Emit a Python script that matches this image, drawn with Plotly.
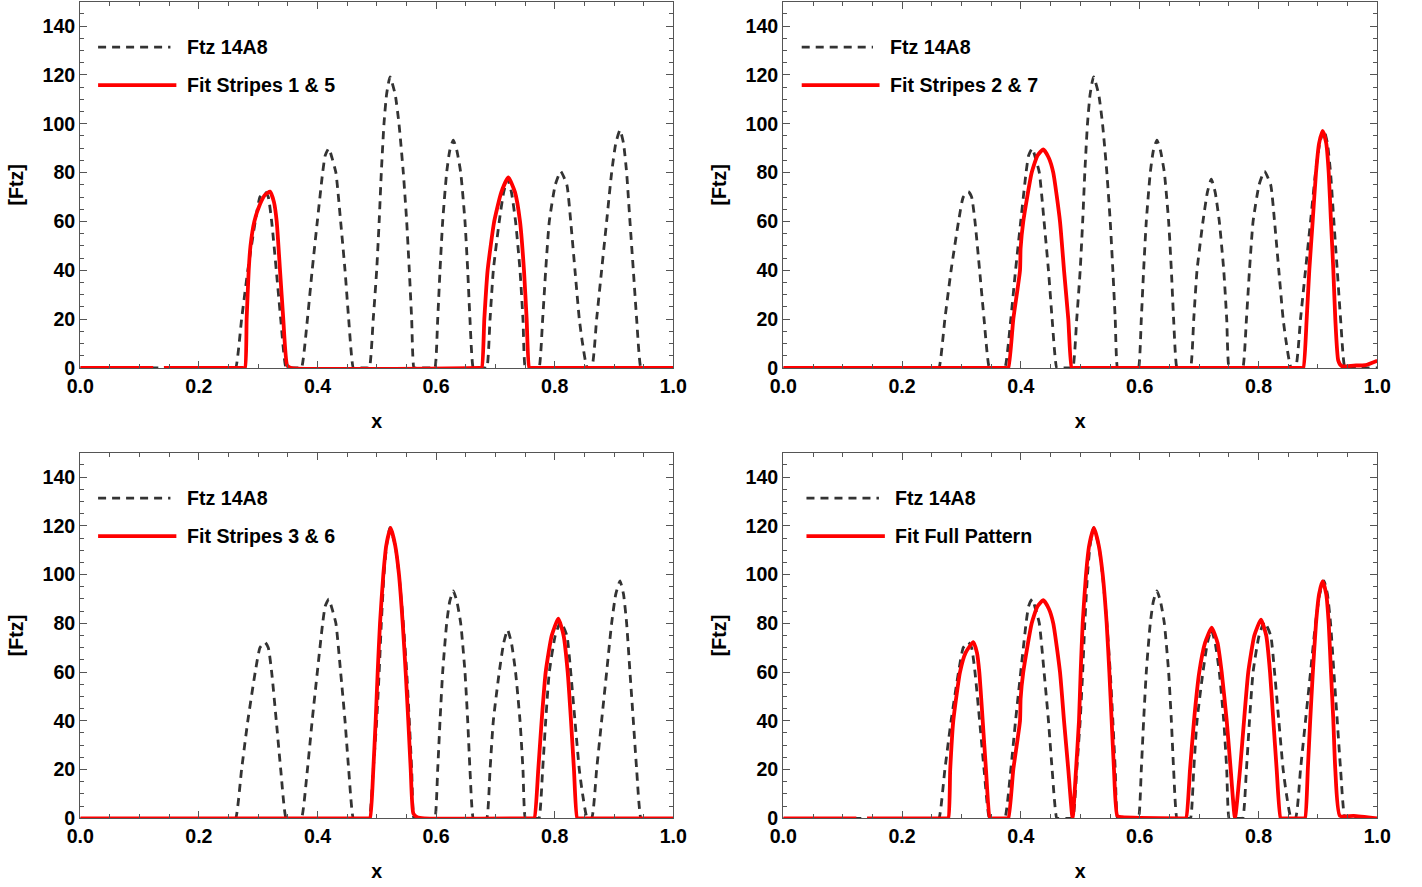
import plotly.graph_objects as go

# ---------------- data ----------------
ftz_x = [0.0, 0.258, 0.262, 0.272, 0.2825, 0.295, 0.303, 0.3115, 0.317, 0.3227, 0.3305, 0.338, 0.347, 0.351,
         0.369, 0.373, 0.383, 0.391, 0.3997, 0.4087, 0.413, 0.419, 0.4245, 0.431, 0.439, 0.4464, 0.4526, 0.4604, 0.464,
         0.484, 0.4874, 0.494, 0.4998, 0.504, 0.5076, 0.5121, 0.5165, 0.5223, 0.531, 0.5374, 0.5447, 0.5504, 0.5548, 0.5588, 0.5627, 0.566,
         0.595, 0.598, 0.6027, 0.6066, 0.6111, 0.6178, 0.623, 0.629, 0.635, 0.6415, 0.6487, 0.6533, 0.6571, 0.6627, 0.666,
         0.682, 0.6855, 0.691, 0.6965, 0.7065, 0.714, 0.7205, 0.727, 0.734, 0.7415, 0.7465, 0.7505, 0.754,
         0.770, 0.7735, 0.7797, 0.7848, 0.7909, 0.801, 0.810, 0.8205, 0.827, 0.8342, 0.8415, 0.847, 0.855,
         0.8622, 0.8707, 0.8791, 0.8876, 0.896, 0.903, 0.9101, 0.916, 0.9213, 0.9269, 0.9326, 0.9382, 0.9454, 0.949, 1.0]
ftz_y = [0, 0, 0, 20, 40, 60, 70, 72.2, 70, 60, 40, 20, 0, 0,
         0, 0, 20, 40, 60, 80, 87, 89.9, 86, 80, 60, 40, 20, 0, 0,
         0, 0, 20, 40, 60, 80, 100, 112, 119.2, 112, 100, 80, 60, 40, 20, 0, 0,
         0, 0, 20, 40, 60, 80, 89, 93.3, 89, 80, 60, 40, 20, 0, 0,
         0, 0, 20, 40, 60, 72, 77.3, 72, 60, 40, 20, 0, 0,
         0, 0, 20, 40, 60, 75, 80.5, 75, 60, 40, 20, 10, 0,
         0, 20, 40, 60, 80, 92, 97.4, 92, 80, 60, 40, 20, 0, 0, 0]

fit15_x = [0.0, 0.123, None, 0.141, 0.274, 0.2777, 0.2805, 0.2840, 0.2870, 0.2935, 0.3030, 0.312, 0.3199, 0.3265, 0.3312,
           0.3368, 0.3423, 0.349, 0.356, 0.673, 0.6769, 0.6813, 0.6869, 0.698, 0.71, 0.7218, 0.733, 0.7415, 0.7482,
           0.7527, 0.7572, 0.761, 1.0]
fit15_y = [0, 0, None, 0, 0, 0, 20, 40, 50, 60, 67, 71, 72.2, 68, 60,
           40, 20, 1, 0, 0, 0, 20, 40, 60, 72, 78, 72, 60, 40,
           20, 0, 0, 0]

fit27_x = [0.0, 0.375, 0.3788, 0.3872, 0.3985, 0.3995, 0.404, 0.4182, 0.428, 0.4377, 0.447, 0.4545, 0.4658, 0.4726,
           0.4798, 0.4855, 0.489, 0.872, 0.8754, 0.8811, 0.8855, 0.8912, 0.8968, 0.902, 0.9081, 0.914, 0.9182, 0.922, 0.926,
           0.9293, 0.9343, 0.94, 0.96, 0.98, 1.0]
fit27_y = [0, 0, 0, 20, 40, 49, 60, 80, 87, 89.5, 86, 80, 60, 40,
           20, 0, 0, 0, 0, 20, 40, 60, 80, 92, 97.1, 92, 80, 60, 40,
           20, 3, 0.8, 1, 1.2, 3]

fit36_x = [0.0, 0.485, 0.4885, 0.4941, 0.4981, 0.5015, 0.5054, 0.511, 0.516, 0.5234, 0.531, 0.5374, 0.5437, 0.5487,
           0.5531, 0.5572, 0.5616, 0.568, 0.58, 0.762, 0.7656, 0.7723, 0.778, 0.7848, 0.795, 0.8061, 0.815, 0.8219,
           0.8275, 0.8325, 0.838, 0.842, 1.0]
fit36_y = [0, 0, 0, 20, 40, 60, 80, 100, 112, 119.1, 112, 100, 80, 60,
           40, 20, 2, 0.5, 0, 0, 0, 20, 40, 60, 75, 81.9, 75, 60,
           40, 20, 0, 0, 0]

fitall_x = [0.0, 0.123, None, 0.141, 0.274, 0.2778, 0.2810, 0.2862, 0.2975, 0.307, 0.3199, 0.326, 0.33, 0.3357, 0.3412,
            0.348, 0.352, 0.375, 0.3788, 0.3872, 0.3985, 0.3995, 0.404, 0.4182, 0.428, 0.4377, 0.447, 0.4545, 0.4658, 0.4726,
            0.4798, 0.487, 0.4928, 0.4978, 0.5006, 0.504, 0.5096, 0.515, 0.523, 0.531, 0.5377, 0.5444, 0.5489,
            0.5528, 0.5567, 0.5623, 0.57, 0.674, 0.678, 0.6847, 0.6914, 0.7003, 0.71, 0.7212, 0.731, 0.738, 0.7465,
            0.7532, 0.7604, 0.7689, 0.7756, 0.7828, 0.793, 0.8042, 0.813, 0.8194, 0.825, 0.8306, 0.8373, 0.841,
            0.875, 0.8783, 0.8830, 0.8870, 0.8915, 0.8968, 0.902, 0.908, 0.914, 0.9182, 0.922, 0.926, 0.9293, 0.937,
            0.96, 1.0]
fitall_y = [0, 0, None, 0, 0, 0, 20, 40, 60, 68, 72.3, 68, 60, 40, 20,
            0, 0, 0, 0, 20, 40, 49, 60, 80, 87, 89.5, 86, 80, 60, 40,
            20, 0, 20, 40, 60, 80, 100, 112, 119.1, 112, 100, 80, 60,
            40, 20, 1, 0.5, 0, 0, 20, 40, 60, 72, 78.2, 72, 60, 40,
            20, 0, 20, 40, 60, 75, 81.5, 75, 60, 40, 20, 0, 0,
            0, 0, 20, 40, 60, 80, 92, 97.3, 92, 80, 60, 40, 20, 1,
            1, 0]

data_label = "Ftz 14A8"
fit_labels = ["Fit Stripes 1 & 5", "Fit Stripes 2 & 7", "Fit Stripes 3 & 6", "Fit Full Pattern"]
fits = [(fit15_x, fit15_y), (fit27_x, fit27_y), (fit36_x, fit36_y), (fitall_x, fitall_y)]

x_tickvals = [0.0, 0.2, 0.4, 0.6, 0.8, 1.0]
y_tickvals = [0, 20, 40, 60, 80, 100, 120, 140]

# ---------------- layout ----------------
W, H = 1422, 887
FONT = "Liberation Sans, Arial, sans-serif"
AX = "#555555"
DASH_COLOR = "#333333"
FS = 19.6

xdoms = [(80.3 / W, 673.3 / W), (783.3 / W, 1377.3 / W)]
ydoms = [(1 - 368.0 / H, 1 - 1.6 / H), (1 - 818.3 / H, 1 - 452.7 / H)]

fig = go.Figure()
bold = lambda: dict(family=FONT, size=FS, color="black", weight="bold")
layout = dict(width=W, height=H, margin=dict(l=0, r=0, t=0, b=0, autoexpand=False),
              paper_bgcolor="white", plot_bgcolor="white", showlegend=False,
              font=bold())

shapes = []
annotations = []
# legend positions (domain fractions): line start, dashed end, red end, text start
leg_pos = [(0.030, 0.152, 0.162, 0.1765), (0.031, 0.151, 0.162, 0.1765),
           (0.030, 0.152, 0.162, 0.1765), (0.039, 0.161, 0.171, 0.1855)]

for i in range(4):
    r, c = divmod(i, 2)
    n = "" if i == 0 else str(i + 1)
    xa, ya = "x" + n, "y" + n
    fx, fy = fits[i]
    fig.add_trace(go.Scatter(x=ftz_x, y=ftz_y, mode="lines", name=data_label,
                             line=dict(color=DASH_COLOR, width=2.8, dash="8px,6px", shape="spline", smoothing=0.5),
                             xaxis=xa, yaxis=ya))
    fig.add_trace(go.Scatter(x=fx, y=fy, mode="lines", name=fit_labels[i], connectgaps=False,
                             line=dict(color="#ff0000", width=3.8, shape="spline", smoothing=0.5),
                             xaxis=xa, yaxis=ya))
    common = dict(showline=True, mirror="ticks", linecolor=AX, linewidth=1.2,
                  ticks="inside", ticklen=7, tickwidth=1.2, tickcolor=AX,
                  showgrid=False, zeroline=False, automargin=False,
                  tickfont=bold())
    layout["xaxis" + n] = dict(common, domain=xdoms[c], anchor=ya, range=[0, 1],
                               tickvals=x_tickvals, tickformat=".1f",
                               minor=dict(dtick=0.05, ticks="inside", ticklen=4, tickwidth=1.2, tickcolor=AX),
                               title=dict(text="x", standoff=18, font=bold()))
    layout["yaxis" + n] = dict(common, domain=ydoms[r], anchor=xa, range=[0, 150],
                               tickvals=y_tickvals,
                               minor=dict(dtick=5, ticks="inside", ticklen=4, tickwidth=1.2, tickcolor=AX),
                               title=dict(text="[Ftz]", standoff=13, font=bold()))
    x0, x1d, x1r, xt = leg_pos[i]
    xr, yr = xa + " domain", ya + " domain"
    shapes.append(dict(type="line", xref=xr, yref=yr, x0=x0, x1=x1d, y0=0.876, y1=0.876,
                       line=dict(color=DASH_COLOR, width=2.8, dash="8px,6px")))
    shapes.append(dict(type="line", xref=xr, yref=yr, x0=x0, x1=x1r, y0=0.772, y1=0.772,
                       line=dict(color="#ff0000", width=3.8)))
    annotations.append(dict(xref=xr, yref=yr, x=xt, y=0.876, text=data_label, showarrow=False,
                            xanchor="left", yanchor="middle", font=bold()))
    annotations.append(dict(xref=xr, yref=yr, x=xt, y=0.772, text=fit_labels[i], showarrow=False,
                            xanchor="left", yanchor="middle", font=bold()))

layout["shapes"] = shapes
layout["annotations"] = annotations
fig.update_layout(**layout)
fig.write_html("out.html")
